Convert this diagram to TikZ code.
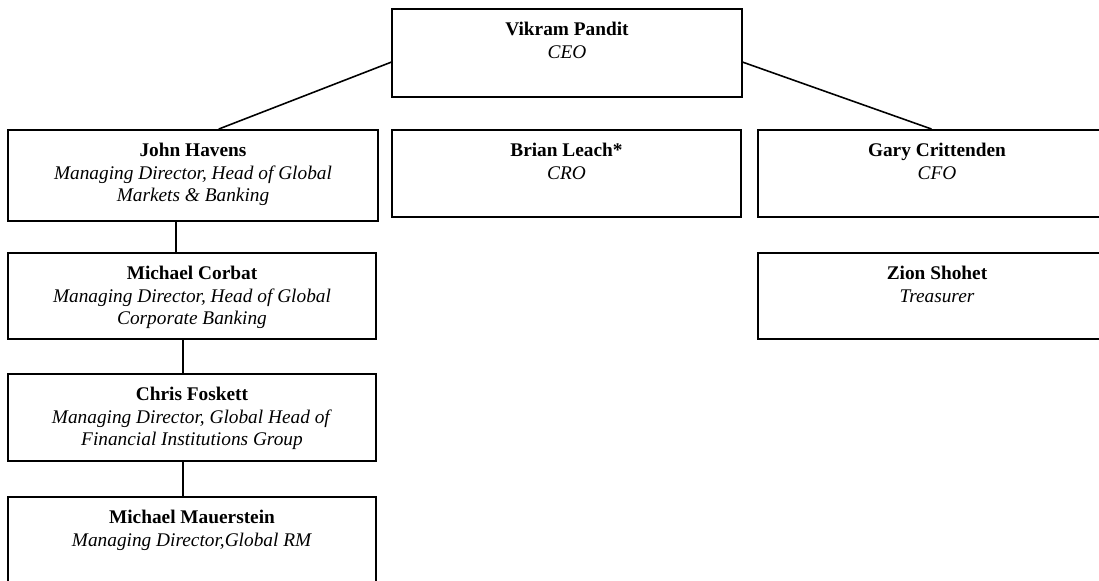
\documentclass[tikz,border=0pt]{standalone}
\usepackage{fontspec}
\setmainfont{Liberation Serif}

\tikzset{
  box/.style={draw, line width=1.1pt, inner sep=0pt},
  who/.style={anchor=north, align=center, inner sep=2pt, yshift=-6pt,
    font=\fontsize{11}{12.8}\selectfont},
  link/.style={line width=0.9pt}
}

\begin{document}
\begin{tikzpicture}[x=0.02cm, y=-0.02cm]

        \useasboundingbox (0,0) rectangle (1099,581);
        \clip (0,0) rectangle (1099,581);

        \node[box, minimum width=7cm, minimum height=1.76cm] (ceo) at (567,53) {};
        \node[who] (ceo-t) at (ceo.north) {\textbf{Vikram Pandit}\\\textit{CEO}};

        \node[box, minimum width=7.4cm, minimum height=1.82cm] (john) at (193,175.5) {};
        \node[who] (john-t) at (john.north) {\textbf{John Havens}\\\textit{Managing Director, Head of Global}\\\textit{Markets \& Banking}};

        \node[box, minimum width=6.98cm, minimum height=1.74cm] (brian) at (566.5,173.5) {};
        \node[who] (brian-t) at (brian.north) {\textbf{Brian Leach*}\\\textit{CRO}};

        \node[box, minimum width=7.16cm, minimum height=1.74cm] (gary) at (937,173.5) {};
        \node[who] (gary-t) at (gary.north) {\textbf{Gary Crittenden}\\\textit{CFO}};

        \node[box, minimum width=7.36cm, minimum height=1.72cm] (corbat) at (192,296) {};
        \node[who] (corbat-t) at (corbat.north) {\textbf{Michael Corbat}\\\textit{Managing Director, Head of Global}\\\textit{Corporate Banking}};

        \node[box, minimum width=7.16cm, minimum height=1.72cm] (zion) at (937,296) {};
        \node[who] (zion-t) at (zion.north) {\textbf{Zion Shohet}\\\textit{Treasurer}};

        \node[box, minimum width=7.36cm, minimum height=1.74cm] (foskett) at (192,417.5) {};
        \node[who] (foskett-t) at (foskett.north) {\textbf{Chris Foskett}\\\textit{Managing Director, Global Head of}\\\textit{Financial Institutions Group}};

        \node[box, minimum width=7.36cm, minimum height=1.76cm] (mauer) at (192,541) {};
        \node[who] (mauer-t) at (mauer.north) {\textbf{Michael Mauerstein}\\\textit{Managing Director,Global RM}};

        \draw[link] (ceo.183) -- (john.61);
        \draw[link] (ceo.357) -- (gary.97);
        \draw[link] ([xshift=-0.34cm]john.south) -- ([xshift=-0.32cm]corbat.north);
        \draw[link] ([xshift=-0.18cm]corbat.south) -- ([xshift=-0.18cm]foskett.north);
        \draw[link] ([xshift=-0.18cm]foskett.south) -- ([xshift=-0.18cm]mauer.north);

    \end{tikzpicture}
\end{document}
